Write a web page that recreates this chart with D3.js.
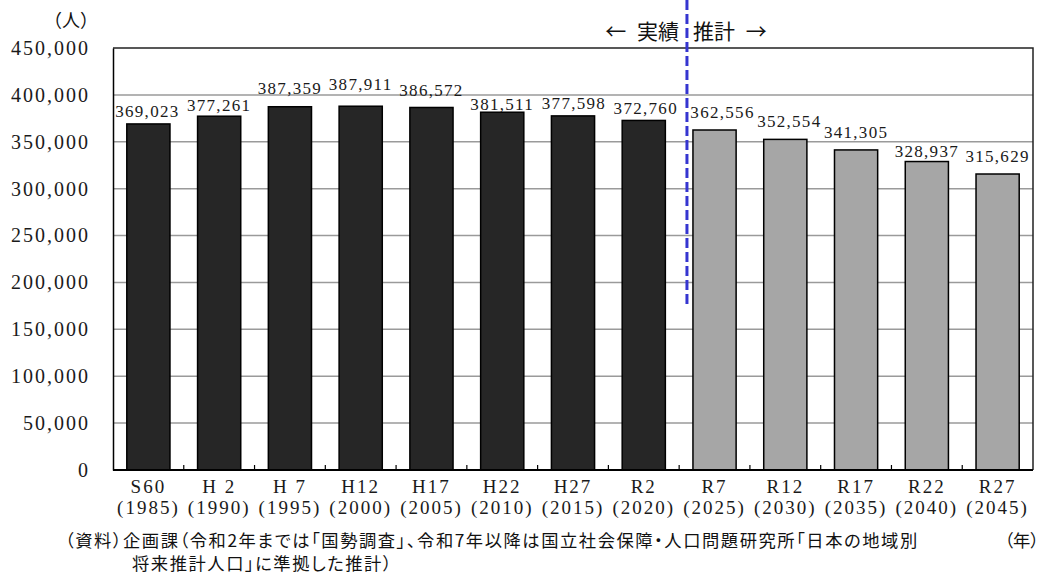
<!DOCTYPE html>
<html lang="ja">
<head>
<meta charset="utf-8">
<script src="https://cdn.jsdelivr.net/npm/d3@7"></script>
<style>
  html, body { margin: 0; padding: 0; background: #fff; }
  svg { display: block; }
  .serif { font-family: "Liberation Serif", "DejaVu Serif", serif; fill: #1a1a1a; }
  .jp { font-family: "Noto Sans CJK JP", "Noto Sans", sans-serif; fill: #111; }
  .palt { font-feature-settings: "palt"; }
</style>
</head>
<body>
<svg id="chart" width="1040" height="576"></svg>
<script>
// 人口の推移（実績と推計）
const eras = ["S60", "H 2", "H 7", "H12", "H17", "H22", "H27", "R2", "R7", "R12", "R17", "R22", "R27"];
const years = ["(1985)", "(1990)", "(1995)", "(2000)", "(2005)", "(2010)", "(2015)", "(2020)", "(2025)", "(2030)", "(2035)", "(2040)", "(2045)"];
const population = [369023, 377261, 387359, 387911, 386572, 381511, 377598, 372760, 362556, 352554, 341305, 328937, 315629];
const kind = ["実績", "実績", "実績", "実績", "実績", "実績", "実績", "実績", "推計", "推計", "推計", "推計", "推計"];
const yTicks = [0, 50000, 100000, 150000, 200000, 250000, 300000, 350000, 400000, 450000];

// per-label nudges for the value labels (baseline offset from bar top, horizontal shift)
const labelDy = [-7, -5, -13, -16, -11.5, -2, -7, -6.5, -12, -12, -12, -5, -12];
const labelDx = [-1, 0, 0, 0, 0, 0, 1, 2, 8, 4, 0, 0, 0];

const svg = d3.select("#chart");
const plot = { left: 113, right: 1033, top: 48, bottom: 470 };

const x = d3.scaleBand()
  .domain(eras)
  .range([plot.left, plot.right])
  .paddingInner(0.39)
  .paddingOuter(0.195);

const y = d3.scaleLinear()
  .domain([0, 450000])
  .range([plot.bottom, plot.top]);

// gridlines
svg.append("g")
  .selectAll("line")
  .data(yTicks.filter(v => v > 0 && v < 450000))
  .join("line")
  .attr("x1", plot.left).attr("x2", plot.right)
  .attr("y1", d => y(d)).attr("y2", d => y(d))
  .attr("stroke", "#9a9a9a")
  .attr("stroke-width", 1.5);

// frame: top and right edges
svg.append("path")
  .attr("d", `M${plot.left},${y(450000)}H${plot.right}V${plot.bottom}`)
  .attr("fill", "none")
  .attr("stroke", "#222")
  .attr("stroke-width", 1.5);

// bars
svg.append("g")
  .selectAll("rect")
  .data(population)
  .join("rect")
  .attr("x", (d, i) => x(eras[i]))
  .attr("y", d => y(d))
  .attr("width", x.bandwidth())
  .attr("height", d => y(0) - y(d))
  .attr("fill", (d, i) => kind[i] === "実績" ? "#262626" : "#a6a6a6")
  .attr("stroke", "#000")
  .attr("stroke-width", 1.5);

// value labels
svg.append("g")
  .selectAll("text")
  .data(population)
  .join("text")
  .attr("class", "serif")
  .attr("x", (d, i) => x(eras[i]) + x.bandwidth() / 2 + labelDx[i])
  .attr("y", (d, i) => y(d) + labelDy[i])
  .attr("text-anchor", "middle")
  .attr("font-size", 17)
  .attr("letter-spacing", 1.3)
  .text(d => d3.format(",")(d));

// y axis
const yAxis = svg.append("g")
  .attr("transform", `translate(${plot.left},0)`)
  .call(d3.axisLeft(y).tickValues(yTicks).tickSize(0).tickPadding(23).tickFormat(d3.format(",")));
yAxis.select(".domain").attr("stroke", "#000").attr("stroke-width", 1.5);
yAxis.selectAll("text")
  .attr("class", "serif")
  .attr("font-size", 20)
  .attr("letter-spacing", 2)
  .attr("font-family", null);

// x axis with short inward ticks on band boundaries
svg.append("line")
  .attr("x1", plot.left).attr("x2", plot.right)
  .attr("y1", y(0)).attr("y2", y(0))
  .attr("stroke", "#000").attr("stroke-width", 2);

svg.append("g")
  .selectAll("line")
  .data(eras.slice(1))
  .join("line")
  .attr("x1", d => x(d) - x.step() * x.paddingInner() / 2)
  .attr("x2", d => x(d) - x.step() * x.paddingInner() / 2)
  .attr("y1", y(0)).attr("y2", y(0) - 5)
  .attr("stroke", "#000").attr("stroke-width", 1.2);

const xl = svg.append("g").selectAll("g")
  .data(eras)
  .join("g")
  .attr("transform", d => `translate(${x(d) + x.bandwidth() / 2},0)`);
xl.append("text")
  .attr("class", "serif")
  .attr("y", 493)
  .attr("text-anchor", "middle")
  .attr("font-size", 19)
  .attr("letter-spacing", 2)
  .text(d => d);
xl.append("text")
  .attr("class", "serif")
  .attr("y", 514)
  .attr("text-anchor", "middle")
  .attr("font-size", 19)
  .attr("letter-spacing", 2)
  .text((d, i) => years[i]);

// divider between actual and projected values
const splitIndex = kind.indexOf("推計");
const splitX = x(eras[splitIndex]) - 6;
svg.append("line")
  .attr("x1", splitX).attr("x2", splitX)
  .attr("y1", 0).attr("y2", 308)
  .attr("stroke", "#3535d0")
  .attr("stroke-width", 3)
  .attr("stroke-dasharray", "10,4");

svg.append("text")
  .attr("class", "jp")
  .attr("x", splitX - 8).attr("y", 39)
  .attr("text-anchor", "end")
  .attr("font-size", 21)
  .attr("word-spacing", 6)
  .text("← 実績");
svg.append("text")
  .attr("class", "jp")
  .attr("x", splitX + 6).attr("y", 39)
  .attr("text-anchor", "start")
  .attr("font-size", 21)
  .attr("word-spacing", 6)
  .text("推計 →");

// unit labels
svg.append("text")
  .attr("class", "jp")
  .attr("x", 71).attr("y", 27)
  .attr("text-anchor", "middle")
  .attr("font-size", 18)
  .text("（人）");

svg.append("text")
  .attr("class", "jp palt")
  .attr("x", 1039).attr("y", 547)
  .attr("text-anchor", "end")
  .attr("font-size", 17.3)
  .text("（年）");

// source note
svg.append("text")
  .attr("class", "jp palt")
  .attr("x", 65).attr("y", 547)
  .attr("font-size", 17.3)
  .attr("letter-spacing", 1.55)
  .text("（資料）企画課（令和2年までは「国勢調査」、令和7年以降は国立社会保障・人口問題研究所「日本の地域別");
svg.append("text")
  .attr("class", "jp palt")
  .attr("x", 132).attr("y", 570)
  .attr("font-size", 17.3)
  .attr("letter-spacing", 1.55)
  .text("将来推計人口」に準拠した推計）");
</script>
</body>
</html>
